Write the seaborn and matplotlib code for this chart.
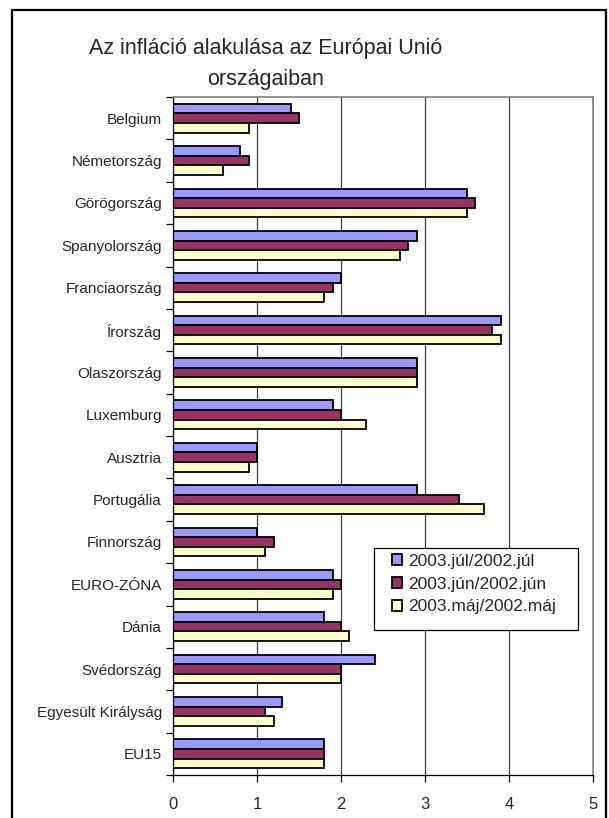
import numpy as np
import pandas as pd
import matplotlib
matplotlib.use("Agg")
import matplotlib.pyplot as plt
import seaborn as sns
from matplotlib.patches import Rectangle

countries = [
    "Belgium", "Németország", "Görögország", "Spanyolország", "Franciaország",
    "Írország", "Olaszország", "Luxemburg", "Ausztria", "Portugália",
    "Finnország", "EURO-ZÓNA", "Dánia", "Svédország", "Egyesült Királyság", "EU15",
]
series_names = ["2003.júl/2002.júl", "2003.jún/2002.jún", "2003.máj/2002.máj"]
jul = [1.4, 0.8, 3.5, 2.9, 2.0, 3.9, 2.9, 1.9, 1.0, 2.9, 1.0, 1.9, 1.8, 2.4, 1.3, 1.8]
jun = [1.5, 0.9, 3.6, 2.8, 1.9, 3.8, 2.9, 2.0, 1.0, 3.4, 1.2, 2.0, 2.0, 2.0, 1.1, 1.8]
maj = [0.9, 0.6, 3.5, 2.7, 1.8, 3.9, 2.9, 2.3, 0.9, 3.7, 1.1, 1.9, 2.1, 2.0, 1.2, 1.8]
colors = ["#9999FF", "#993366", "#FFFFCC"]

rows = []
for name, vals in zip(series_names, [jul, jun, maj]):
    for c, v in zip(countries, vals):
        rows.append({"country": c, "series": name, "value": v})
df = pd.DataFrame(rows)

sns.set_style("white")
plt.rcParams["font.family"] = ["Liberation Sans", "DejaVu Sans"]

W, H = 609, 818
fig = plt.figure(figsize=(W / 100, H / 100), dpi=100)
ax = fig.add_axes([173 / W, 1 - 775 / H, 420 / W, 678 / H])

sns.barplot(
    data=df, x="value", y="country", hue="series", order=countries,
    hue_order=series_names, palette=colors, orient="h", width=0.68,
    edgecolor="black", linewidth=1.3, saturation=1, ax=ax,
)

ax.set_xlim(0, 5)
ax.set_ylim(len(countries) - 0.5, -0.5)
ax.set_xticks(range(0, 6))
ax.set_xticklabels([str(i) for i in range(0, 6)], fontsize=12)
ax.xaxis.grid(True, color="#404040", linewidth=0.9)
ax.set_axisbelow(True)
ax.set_xlabel("")
ax.set_ylabel("")

ax.set_yticks(range(len(countries)))
ax.set_yticklabels(countries, fontsize=11)
ax.set_yticks(np.arange(-0.5, len(countries), 1), minor=True)
ax.tick_params(axis="y", which="major", length=0, pad=8)
ax.tick_params(axis="y", which="minor", length=5, color="black", width=0.9, left=True)
ax.tick_params(axis="x", which="major", length=5, color="black", width=0.9, bottom=True, pad=11)

for side in ["left", "bottom"]:
    ax.spines[side].set_color("black")
    ax.spines[side].set_linewidth(0.9)
for side in ["top", "right"]:
    ax.spines[side].set_color("#808080")
    ax.spines[side].set_linewidth(1.2)

# Excel-style legend: wide box with loose right padding
leg = ax.legend(
    loc="center left", bbox_to_anchor=(392 / W, 1 - 584 / H),
    bbox_transform=fig.transFigure,
    fontsize=12.5, frameon=False,
    handlelength=0.6, handleheight=0.6, handletextpad=0.35,
    labelspacing=0.45, borderpad=0, borderaxespad=0,
)
leg.set_zorder(6)
ax.add_patch(Rectangle((374 / W, 1 - 630 / H), 204 / W, 82 / H,
                       transform=fig.transFigure, facecolor="white",
                       edgecolor="black", linewidth=0.9, zorder=5.5, clip_on=False))

fig.text(266 / W, 1 - 64 / H, "Az infláció alakulása az Európai Unió\nországaiban",
         ha="center", va="center", fontsize=15.5, linespacing=1.66)

fig.patches.append(Rectangle((12 / W, -0.01), 594 / W, 1 - 10 / H + 0.01,
                             transform=fig.transFigure, fill=False,
                             edgecolor="black", linewidth=1.6))

fig.savefig("out.png", dpi=100)
